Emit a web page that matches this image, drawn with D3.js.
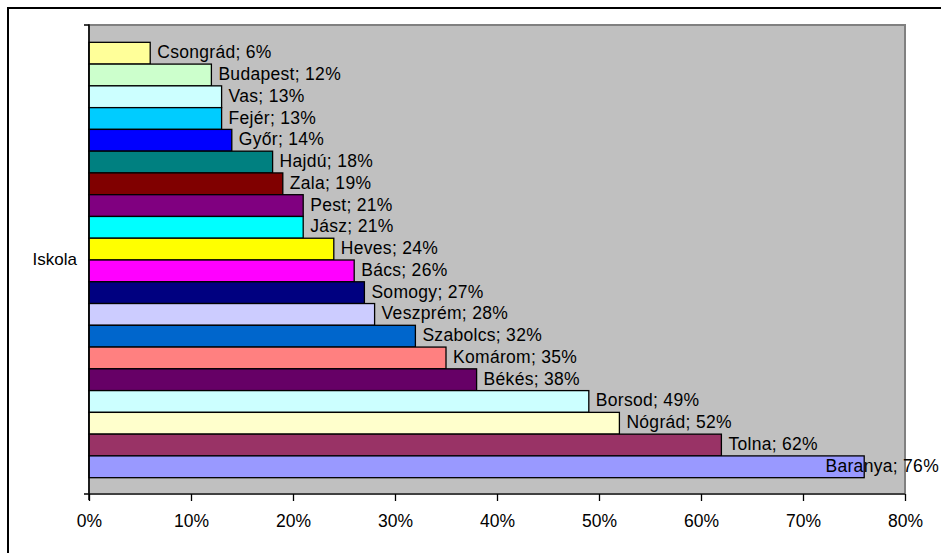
<!DOCTYPE html>
<html>
<head>
<meta charset="utf-8">
<script src="https://cdn.jsdelivr.net/npm/d3@7/dist/d3.min.js"></script>
<style>
  html, body { margin: 0; padding: 0; background: #fff; }
  svg { display: block; font-family: Arial, "Liberation Sans", sans-serif; }
</style>
</head>
<body>
<svg id="chart" width="941" height="553"></svg>
<script>
// Counties, top to bottom, with their share (%)
const counties = ["Csongrád", "Budapest", "Vas", "Fejér", "Győr", "Hajdú", "Zala", "Pest", "Jász", "Heves",
                  "Bács", "Somogy", "Veszprém", "Szabolcs", "Komárom", "Békés", "Borsod", "Nógrád", "Tolna", "Baranya"];
const shares = [6, 12, 13, 13, 14, 18, 19, 21, 21, 24, 26, 27, 28, 32, 35, 38, 49, 52, 62, 76];
const barColors = ["#FFFF99", "#CCFFCC", "#CCFFFF", "#00CCFF", "#0000FF", "#008080", "#800000", "#800080", "#00FFFF", "#FFFF00",
                   "#FF00FF", "#000080", "#CCCCFF", "#0066CC", "#FF8080", "#660066", "#CCFFFF", "#FFFFCC", "#993366", "#9999FF"];
const categoryLabel = "Iskola";
const tickValues = [0, 10, 20, 30, 40, 50, 60, 70, 80];

const W = 941, H = 553;
const plot = { left: 89, top: 25, right: 905, bottom: 494 };

const svg = d3.select("#chart");

// outer chart frame (runs past the right and bottom edges)
svg.append("rect")
  .attr("x", 8).attr("y", 8).attr("width", 1000).attr("height", 600)
  .attr("fill", "#fff").attr("stroke", "#000").attr("stroke-width", 2);

// plot area
svg.append("rect")
  .attr("x", plot.left).attr("y", plot.top)
  .attr("width", plot.right - plot.left).attr("height", plot.bottom - plot.top)
  .attr("fill", "#C0C0C0").attr("stroke", "#808080").attr("stroke-width", 2);

const x = d3.scaleLinear().domain([0, 80]).range([plot.left, plot.right]);
const y = d3.scaleBand().domain(counties).range([plot.top + 1, plot.bottom])
  .paddingInner(0).paddingOuter(0.75);

const data = counties.map((c, i) => ({ name: c, value: shares[i], color: barColors[i] }));

// bars
svg.append("g").selectAll("rect").data(data).join("rect")
  .attr("x", x(0))
  .attr("y", d => y(d.name))
  .attr("width", d => x(d.value) - x(0))
  .attr("height", y.bandwidth())
  .attr("fill", d => d.color)
  .attr("stroke", "#000").attr("stroke-width", 1.3);

// data labels: "Name; value%" right of each bar, kept inside the chart width
const labels = svg.append("g").selectAll("text").data(data).join("text")
  .attr("y", d => y(d.name) + y.bandwidth() / 2 + 5)
  .attr("font-size", 17.5)
  .attr("letter-spacing", 0.3)
  .attr("fill", "#000")
  .text(d => `${d.name}; ${d.value}%`);
labels.each(function(d) {
  const w = this.getComputedTextLength();
  const px = Math.min(x(d.value) + 7, W - w - 2);
  d3.select(this).attr("x", px);
});

// x axis
const xAxis = d3.axisBottom(x).tickValues(tickValues).tickFormat(d => d + "%").tickSize(7).tickPadding(14);
const gx = svg.append("g").attr("transform", `translate(0,${plot.bottom})`).call(xAxis);
gx.select(".domain").attr("stroke", "#404040").attr("stroke-width", 2).attr("d", `M${plot.left - 5},0H${plot.right}`);
gx.selectAll(".tick line").attr("stroke", "#000").attr("stroke-width", 1.3);
gx.selectAll(".tick text").attr("font-size", 17.5).attr("fill", "#000")
  .attr("font-family", "Arial, 'Liberation Sans', sans-serif");

// y axis with the single category
const yCat = d3.scaleBand().domain([categoryLabel]).range([plot.top, plot.bottom]);
const yAxis = d3.axisLeft(yCat).tickSize(0).tickPadding(12);
const gy = svg.append("g").attr("transform", `translate(${plot.left},0)`).call(yAxis);
gy.select(".domain").attr("stroke", "#000").attr("stroke-width", 1.5)
  .attr("d", `M-5,${plot.top}H0V${plot.bottom + 6}`);
gy.selectAll(".tick text").attr("font-size", 17).attr("fill", "#000")
  .attr("font-family", "Arial, 'Liberation Sans', sans-serif");
</script>
</body>
</html>
